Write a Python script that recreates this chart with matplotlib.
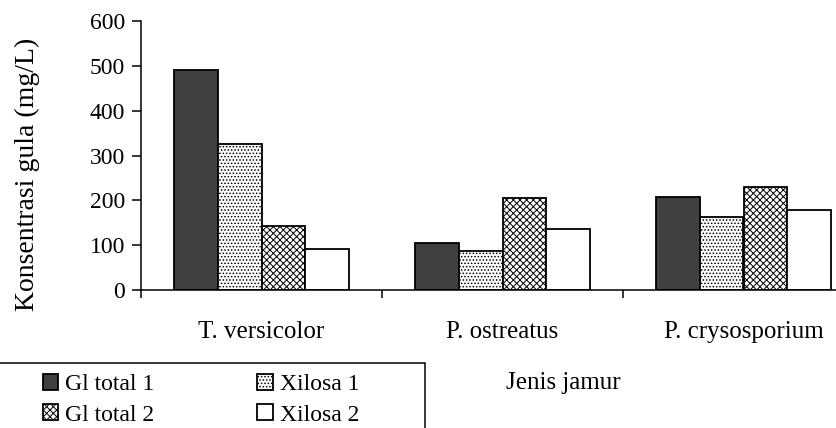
import numpy as np
import matplotlib
matplotlib.use("Agg")
import matplotlib.pyplot as plt
from matplotlib.patches import Rectangle

plt.rcParams['font.family'] = ['Liberation Serif', 'DejaVu Serif']
plt.rcParams['hatch.linewidth'] = 0.7

# data
jamur = ['T. versicolor', 'P. ostreatus', 'P. crysosporium']
series = ['Gl total 1', 'Xilosa 1', 'Gl total 2', 'Xilosa 2']
gl_total_1 = [490, 105, 208]
xilosa_1 = [325, 87, 162]
gl_total_2 = [143, 205, 230]
xilosa_2 = [92, 137, 178]
values = [gl_total_1, xilosa_1, gl_total_2, xilosa_2]

faces = ['#404040', 'white', 'white', 'white']
hatches = [None, '.....', 'xxxxx', None]

fig = plt.figure(figsize=(8.36, 4.28), dpi=100)
# axes runs past the right edge, like the cropped scan
ax = fig.add_axes([141/836, 1-290/428, 723/836, 269/428])

x = np.arange(len(jamur))
w = 0.181
bars = []
for i, vals in enumerate(values):
    b = ax.bar(x + (i - 1.5)*w, vals, w, color=faces[i], edgecolor='black',
               linewidth=1.3, hatch=hatches[i], label=series[i])
    bars.append(b)

ax.set_xlim(-0.5, 2.5)
ax.set_ylim(0, 600)
ax.set_yticks(np.arange(0, 601, 100))
ax.tick_params(axis='y', labelsize=17, length=6.5, width=1.1, pad=5, direction='out')
ax.set_xticks(x)
ax.set_xticklabels(jamur, fontsize=18)
ax.tick_params(axis='x', which='major', length=0, pad=22)
ax.set_xticks(np.arange(-0.5, 2.6, 1), minor=True)
ax.tick_params(axis='x', which='minor', length=6, width=1.1, direction='out')
ax.spines['top'].set_visible(False)
ax.spines['right'].set_visible(False)
ax.spines['left'].set_linewidth(1.1)
ax.spines['bottom'].set_linewidth(1.1)

fig.text(27/836, 1-174/428, 'Konsentrasi gula (mg/L)', rotation=90,
         ha='center', va='center', fontsize=20)
fig.text(563/836, 1-383/428, 'Jenis jamur', ha='center', va='center', fontsize=18)

# legend box cropped at left and bottom
fig.patches.append(Rectangle((-5/836, -0.05), 430/836, 0.05+1-363/428,
                             transform=fig.transFigure, fill=False,
                             edgecolor='black', linewidth=1.1))
# matplotlib fills legend columns first, so reorder to read row by row
order = [0, 2, 1, 3]
fig.legend([bars[k] for k in order], [series[k] for k in order], ncol=2,
           loc='upper left', bbox_to_anchor=(31/836, 1-362/428),
           frameon=False, fontsize=17, handlelength=0.65, handleheight=0.65,
           handletextpad=0.3, columnspacing=4.35, labelspacing=0.4, borderpad=0)

fig.savefig('out.png', dpi=100)
